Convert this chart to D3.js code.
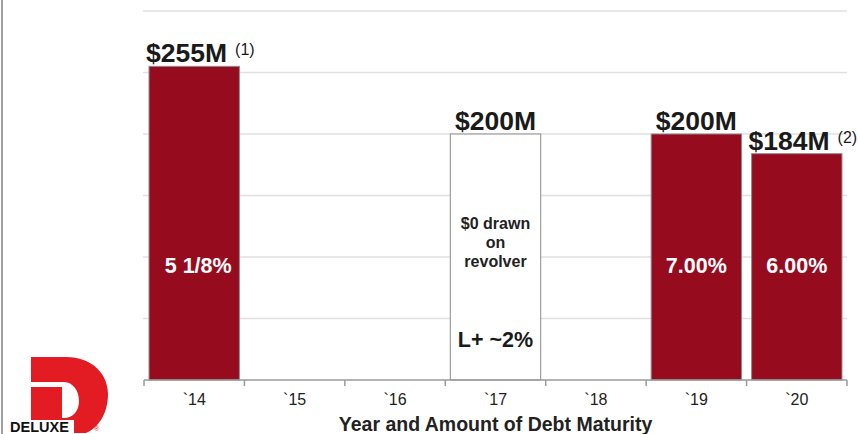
<!DOCTYPE html>
<html>
<head>
<meta charset="utf-8">
<script src="https://cdn.jsdelivr.net/npm/d3@7"></script>
<style>
  html, body { margin: 0; padding: 0; background: #fff; }
  svg { display: block; font-family: "Liberation Sans", Arial, Helvetica, sans-serif; }
</style>
</head>
<body>
<svg id="chart" width="858" height="434"></svg>
<script>
// ---- data ----
const years = ["`14", "`15", "`16", "`17", "`18", "`19", "`20"];
const amounts = [255, null, null, 200, null, 200, 184];
const amountLabels = ["$255M", "", "", "$200M", "", "$200M", "$184M"];
const footnotes = ["(1)", "", "", "", "", "", "(2)"];
const rateLabels = ["5 1/8%", "", "", "L+ ~2%", "", "7.00%", "6.00%"];
const revolver = [false, false, false, true, false, false, false];
const revolverNote = ["$0 drawn", "on", "revolver"];
const yTicks = [0, 50, 100, 150, 200, 250, 300];
const xTitle = "Year and Amount of Debt Maturity";

(function () {
const svg = d3.select("#chart");
const W = 858, H = 434;
const mLeft = 144, mRight = 847, mTop = 11, mBottom = 380;

const x = d3.scaleBand().domain(years).range([mLeft, mRight]).paddingInner(0.1).paddingOuter(0.05);
const y = d3.scaleLinear().domain([0, 300]).range([mBottom, mTop]);
const step = x.step();
const bandStart = d => x(d) - step * 0.05;

// left frame border
svg.append("rect").attr("x", 1).attr("y", 0).attr("width", 2).attr("height", H).attr("fill", "#a0a0a0");

// gridlines
svg.append("g").selectAll("line").data(yTicks.filter(t => t > 0)).join("line")
  .attr("x1", mLeft - 1).attr("x2", mRight)
  .attr("y1", d => y(d)).attr("y2", d => y(d))
  .attr("stroke", "#e0e0e0").attr("stroke-width", 1.5);

const rows = years.map((yr, i) => ({
  yr, v: amounts[i], label: amountLabels[i], note: footnotes[i], rate: rateLabels[i], rev: revolver[i]
})).filter(d => d.v != null);

// bars
svg.append("g").selectAll("rect").data(rows).join("rect")
  .attr("x", d => x(d.yr)).attr("width", x.bandwidth())
  .attr("y", d => y(d.v)).attr("height", d => y(0) - y(d.v))
  .attr("fill", d => d.rev ? "#ffffff" : "#970b1f")
  .attr("stroke", "#8c8c8c").attr("stroke-width", 1);

// x axis: labels at centres via d3 axis
const axisG = svg.append("g").attr("transform", `translate(0,${mBottom})`)
  .call(d3.axisBottom(x).tickSize(0).tickPadding(14));
axisG.select(".domain").remove();
axisG.selectAll("text").attr("font-size", 16).attr("fill", "#222")
  .attr("font-family", "Liberation Sans, Arial, sans-serif");

// axis baseline and boundary ticks
svg.append("line").attr("x1", mLeft).attr("x2", mRight).attr("y1", mBottom).attr("y2", mBottom)
  .attr("stroke", "#9a9a9a").attr("stroke-width", 1.5);
const bounds = years.map(bandStart).concat([bandStart(years[years.length - 1]) + step]);
svg.append("g").selectAll("line").data(bounds).join("line")
  .attr("x1", d => d).attr("x2", d => d).attr("y1", mBottom).attr("y2", mBottom + 6)
  .attr("stroke", "#9a9a9a").attr("stroke-width", 1.5);

// axis title
svg.append("text").attr("x", (mLeft + mRight) / 2).attr("y", 431)
  .attr("text-anchor", "middle").attr("font-size", 19.5).attr("font-weight", "bold")
  .attr("fill", "#222").text(xTitle);

// amount labels above bars
const lab = svg.append("g").selectAll("g").data(rows).join("g");
lab.append("text")
  .attr("x", d => d.note ? x(d.yr) - 3 : x(d.yr) + x.bandwidth() / 2)
  .attr("y", d => y(d.v) - 4)
  .attr("text-anchor", d => d.note ? "start" : "middle")
  .attr("font-size", 26.5).attr("font-weight", "bold").attr("fill", "#1a1a1a")
  .text(d => d.label)
  .each(function (d) {
    if (!d.note) return;
    const bb = this.getBBox();
    d3.select(this.parentNode).append("text")
      .attr("x", bb.x + bb.width + 8).attr("y", y(d.v) - 11)
      .attr("font-size", 16).attr("fill", "#1a1a1a").text(d.note);
  });

// rate labels inside bars
svg.append("g").selectAll("text").data(rows).join("text")
  .attr("x", d => x(d.yr) + x.bandwidth() / 2 + (d.rate.length > 5 && !d.rev ? 4 : 0))
  .attr("y", d => d.rev ? 347 : 273)
  .attr("text-anchor", "middle").attr("font-size", 21.5).attr("font-weight", "bold")
  .attr("fill", d => d.rev ? "#1a1a1a" : "#ffffff")
  .text(d => d.rate);

// revolver note
const revRow = rows.find(d => d.rev);
svg.append("g").selectAll("text").data(revolverNote).join("text")
  .attr("x", x(revRow.yr) + x.bandwidth() / 2)
  .attr("y", (d, i) => 229 + i * 19)
  .attr("text-anchor", "middle").attr("font-size", 16).attr("font-weight", "bold")
  .attr("fill", "#222").text(d => d);

// Deluxe logo
const logo = svg.append("g");
logo.append("path")
  .attr("d", "M31,357 H66 C92,357 108,374 108,394 C108,414 98,428 86,433 L74,433 L74,420 H31 Z")
  .attr("fill", "#e31b23");
logo.append("path")
  .attr("d", "M31,382 H64 C73,382 79,391 79,401 C79,411 73,418 64,418 H62 V387 H31 Z")
  .attr("fill", "#ffffff");
logo.append("text").attr("x", 10).attr("y", 432).attr("font-size", 14.5).attr("font-weight", "bold")
  .attr("fill", "#111").text("DELUXE");
logo.append("text").attr("x", 94).attr("y", 431).attr("font-size", 7).attr("fill", "#e31b23").text("®");
})();
</script>
</body>
</html>
